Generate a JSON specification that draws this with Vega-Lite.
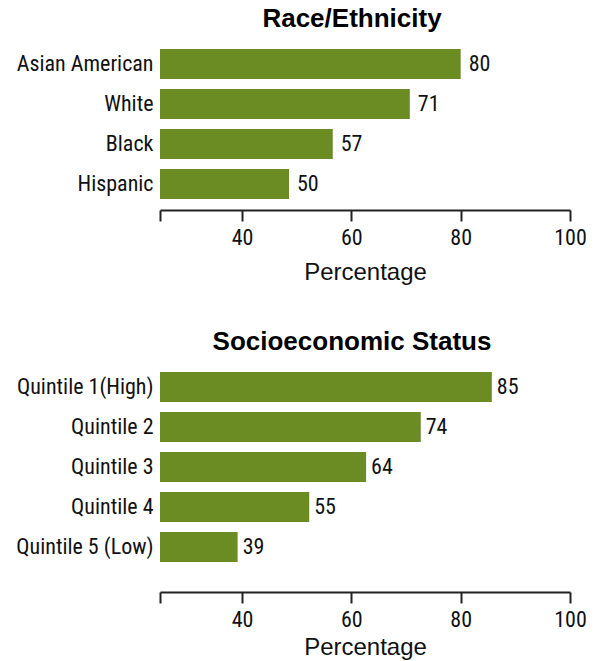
{
  "$schema": "https://vega.github.io/schema/vega-lite/v6.json",
  "padding": {"left": 15, "top": 6, "right": 0, "bottom": 2},
  "background": "white",
  "spacing": 163,
  "bounds": "flush",
  "config": {
    "view": {"stroke": null},
    "font": "Liberation Sans",
    "title": {"font": "Liberation Sans", "fontSize": 26, "fontWeight": "bold", "color": "#000", "anchor": "middle", "dx": -13, "offset": 12},
    "axisY": {"domain": false, "ticks": false, "labelFont": "Liberation Sans Narrow, Arial Narrow, Roboto Condensed, sans-serif", "labelFontSize": 22, "labelColor": "#111", "labelPadding": 7, "title": null},
    "axisX": {"domainColor": "#222", "domainWidth": 2, "tickColor": "#222", "tickWidth": 2, "tickSize": 11, "grid": false, "labelFlush": false, "labelFont": "Liberation Sans Narrow, Arial Narrow, Roboto Condensed, sans-serif", "labelFontSize": 22, "labelColor": "#111", "titleFont": "Liberation Sans", "titleFontSize": 24, "titleFontWeight": "normal", "titleColor": "#111"}
  },
  "datasets": {
    "race": [
      {"group": "Asian American", "value": 80.0, "label": 80},
      {"group": "White", "value": 70.7, "label": 71},
      {"group": "Black", "value": 56.6, "label": 57},
      {"group": "Hispanic", "value": 48.6, "label": 50}
    ],
    "ses": [
      {"group": "Quintile 1(High)", "value": 85.7, "label": 85},
      {"group": "Quintile 2", "value": 72.7, "label": 74},
      {"group": "Quintile 3", "value": 62.7, "label": 64},
      {"group": "Quintile 4", "value": 52.3, "label": 55},
      {"group": "Quintile 5 (Low)", "value": 39.2, "label": 39}
    ]
  },
  "vconcat": [
    {
      "title": "Race/Ethnicity",
      "data": {"name": "race"},
      "width": 410,
      "height": 160,
      "encoding": {
        "y": {"field": "group", "type": "nominal", "sort": null, "scale": {"paddingInner": 0.25, "paddingOuter": 0.125}},
        "x": {"field": "value", "type": "quantitative", "scale": {"domain": [25, 100], "nice": false, "zero": false},
              "axis": {"values": [25, 40, 60, 80, 100], "labelExpr": "datum.value == 25 ? '' : datum.label", "offset": 6, "labelPadding": 6, "titlePadding": 12, "title": "Percentage"}}
      },
      "layer": [
        {"mark": {"type": "bar", "color": "#6b8b23"}, "encoding": {"x2": {"datum": 25}}},
        {"mark": {"type": "text", "align": "left", "baseline": "middle", "dx": 8, "font": "Liberation Sans Narrow, Arial Narrow, Roboto Condensed, sans-serif", "fontSize": 22, "color": "#111"}, "encoding": {"text": {"field": "label", "type": "quantitative"}}}
      ]
    },
    {
      "title": "Socioeconomic Status",
      "data": {"name": "ses"},
      "width": 410,
      "height": 200,
      "encoding": {
        "y": {"field": "group", "type": "nominal", "sort": null, "scale": {"paddingInner": 0.25, "paddingOuter": 0.125}},
        "x": {"field": "value", "type": "quantitative", "scale": {"domain": [25, 100], "nice": false, "zero": false},
              "axis": {"values": [25, 40, 60, 80, 100], "labelExpr": "datum.value == 25 ? '' : datum.label", "offset": 25, "labelPadding": 6, "titlePadding": 5, "title": "Percentage"}}
      },
      "layer": [
        {"mark": {"type": "bar", "color": "#6b8b23"}, "encoding": {"x2": {"datum": 25}}},
        {"mark": {"type": "text", "align": "left", "baseline": "middle", "dx": 5, "font": "Liberation Sans Narrow, Arial Narrow, Roboto Condensed, sans-serif", "fontSize": 22, "color": "#111"}, "encoding": {"text": {"field": "label", "type": "quantitative"}}}
      ]
    }
  ]
}
